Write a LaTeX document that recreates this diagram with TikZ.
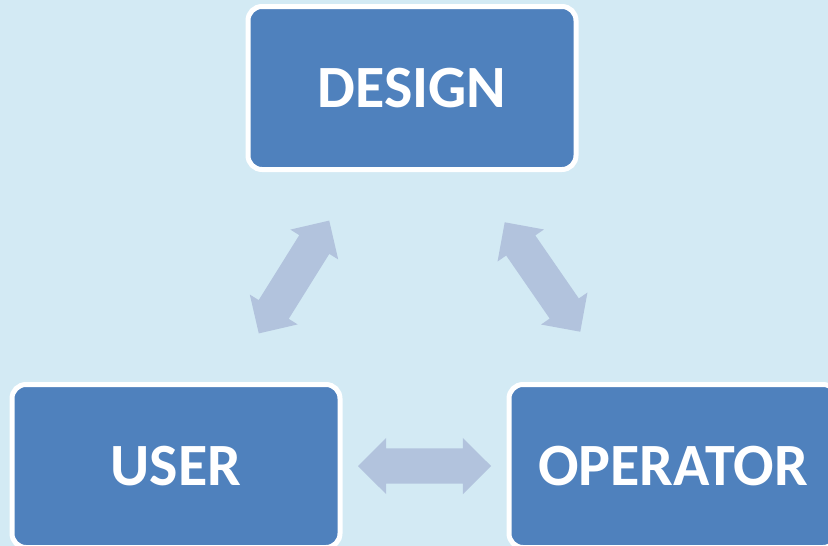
\documentclass[tikz,border=0pt]{standalone}
\usepackage{fontspec}
\setmainfont{Carlito}
\usetikzlibrary{shapes.arrows}
\definecolor{bgblue}{RGB}{211,234,244}
\definecolor{boxblue}{RGB}{79,129,189}
\definecolor{arrowblue}{RGB}{178,195,221}
\tikzset{
  box/.style={draw=white, line width=5pt, fill=boxblue, rounded corners=14pt,
    minimum width=328pt, minimum height=163pt, text=white,
    font=\fontsize{60}{72}\selectfont\bfseries},
  link/.style={double arrow, fill=arrowblue, inner xsep=0pt, inner ysep=17.5pt,
    minimum height=133pt, double arrow head extend=10.5pt}
}
\begin{document}
\begin{tikzpicture}[x=1pt,y=-1pt]
      \useasboundingbox (0,0) rectangle (828,546);
      \fill[bgblue] (0,0) rectangle (828,546);
      \draw
        (412,88) node[box] (design){DESIGN}
        (176,466) node[box] (user){USER}
        (673,466) node[box] (operator){OPERATOR};
      \begin{scope}[-]
        \path (design.center) -- node[link, sloped] (a1){} (user.center);
        \path (design.center) -- node[link, sloped] (a2){} (operator.center);
        \path (user.center) -- node[link, sloped] (a3){} (operator.center);
      \end{scope}
    \end{tikzpicture}
\end{document}
